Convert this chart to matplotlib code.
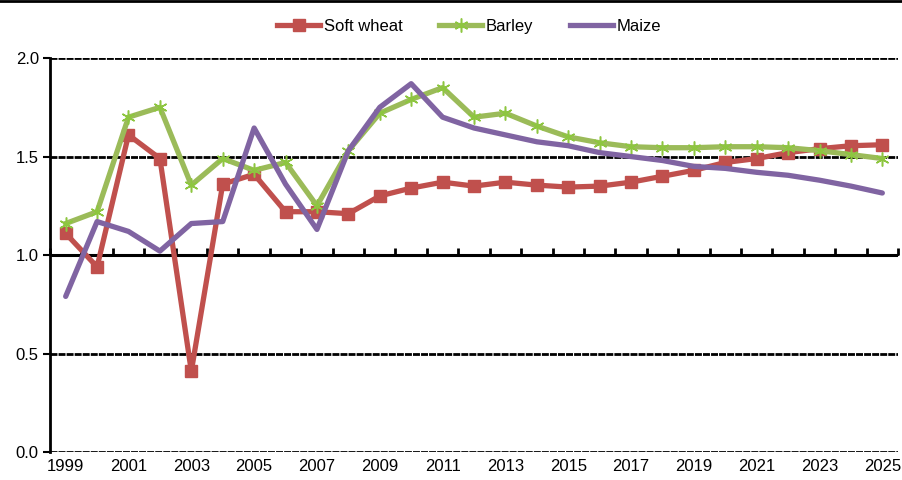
import numpy as np
import matplotlib.pyplot as plt
from matplotlib.lines import Line2D

plt.rcParams['font.family'] = ['Liberation Sans', 'DejaVu Sans']

years = list(range(1999, 2026))
soft_wheat = [1.11, 0.94, 1.61, 1.49, 0.41, 1.36, 1.41, 1.22, 1.22, 1.21,
              1.30, 1.34, 1.37, 1.35, 1.37, 1.355, 1.345, 1.35, 1.37, 1.40,
              1.43, 1.47, 1.49, 1.52, 1.54, 1.555, 1.56]
barley = [1.16, 1.22, 1.70, 1.75, 1.355, 1.49, 1.43, 1.47, 1.25, 1.53,
          1.72, 1.79, 1.85, 1.70, 1.72, 1.655, 1.60, 1.57, 1.55, 1.545,
          1.545, 1.55, 1.55, 1.545, 1.53, 1.51, 1.49]
maize = [0.79, 1.17, 1.12, 1.02, 1.16, 1.17, 1.645, 1.36, 1.13, 1.53,
         1.75, 1.87, 1.70, 1.645, 1.61, 1.575, 1.555, 1.52, 1.50, 1.48,
         1.45, 1.44, 1.42, 1.405, 1.38, 1.35, 1.315]

red = '#C0504D'
green = '#9BBB59'
purple = '#8064A2'

fig = plt.figure(figsize=(9.02, 4.80), dpi=100)
ax = fig.add_axes([0.0554, 0.0583, 0.9402, 0.8207])

x = np.arange(len(years))

# grid lines (dashed look), 1.0 is the solid axis line
for g in [0.0, 0.5, 1.5, 2.0]:
    ax.axhline(g, color='black', lw=2, ls=(0, (2.5, 0.4)), zorder=1)
ax.axhline(1.0, color='black', lw=2.2, zorder=1)

ax.plot(x, soft_wheat, color=red, lw=3.8, marker='s', ms=9, zorder=3)
ax.plot(x, barley, color=green, lw=3.8, marker=(6, 2, 0), ms=10, mew=1.1,
        mec='#8DC63F', zorder=4)
ax.plot(x, maize, color=purple, lw=3.8, zorder=5, solid_capstyle='round')

ax.set_xlim(-0.5, len(years) - 0.5)
ax.set_ylim(0, 2.0)
ax.set_yticks([0.0, 0.5, 1.0, 1.5, 2.0])
ax.set_yticklabels(['0.0', '0.5', '1.0', '1.5', '2.0'])
ax.set_xticks(x[::2])
ax.set_xticklabels([str(y) for y in years[::2]])
ax.tick_params(axis='x', length=0, pad=5, labelsize=12)
ax.tick_params(axis='y', length=5, width=1.5, direction='out', labelsize=12, pad=3)

for s in ['top', 'right', 'bottom']:
    ax.spines[s].set_visible(False)
ax.spines['left'].set_linewidth(2)

# category ticks on the 1.0 line
sec = ax.secondary_xaxis(0.5)
sec.set_xticks(np.arange(len(years) + 1) - 0.5)
sec.set_xticklabels([])
sec.tick_params(length=5, width=2, direction='out')
sec.spines['bottom'].set_visible(False)

handles = [
    Line2D([], [], color=red, lw=3.8, marker='s', ms=9),
    Line2D([], [], color=green, lw=3.8, marker=(6, 2, 0), ms=10, mew=1.1, mec='#8DC63F'),
    Line2D([], [], color=purple, lw=3.8),
]
fig.legend(handles, ['Soft wheat', 'Barley', 'Maize'], loc='center',
           bbox_to_anchor=(0.52, 0.945), ncol=3, frameon=False,
           fontsize=12, handlelength=2.6, handletextpad=0.2, columnspacing=2.2)

fig.add_artist(Line2D([0, 1], [0.997, 0.997], color='black', lw=2,
                      transform=fig.transFigure))

fig.savefig('out.png', dpi=100)
